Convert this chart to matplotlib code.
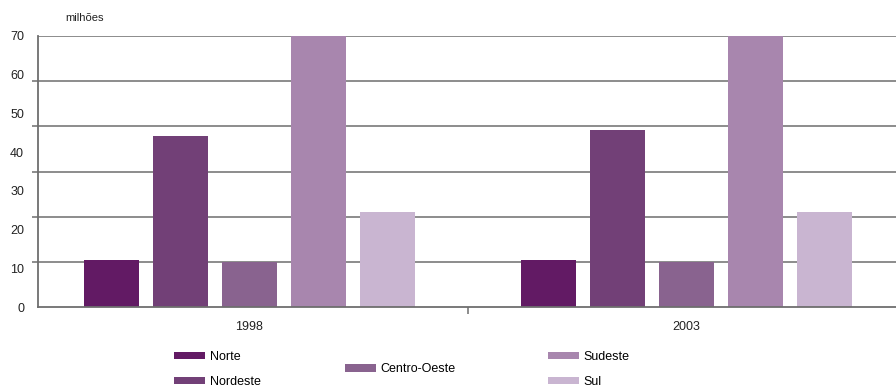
import numpy as np
import matplotlib
matplotlib.use("Agg")
import matplotlib.pyplot as plt

plt.rcParams['font.family'] = ['Liberation Sans', 'DejaVu Sans']

years = ['1998', '2003']
regions = ['Norte', 'Nordeste', 'Centro-Oeste', 'Sudeste', 'Sul']
# populacao em milhoes (Sudeste ultrapassa o limite do eixo)
norte = [12.1, 12.1]
nordeste = [44.2, 45.7]
centro_oeste = [11.6, 11.6]
sudeste = [72.0, 76.0]
sul = [24.5, 24.6]
y_labels = [0, 10, 20, 30, 40, 50, 60, 70]

colors = ['#621a64', '#724077', '#89638f', '#a886ae', '#c9b5d1']
series = [norte, nordeste, centro_oeste, sudeste, sul]

fig = plt.figure(figsize=(8.96, 3.90), dpi=100)
ax = fig.add_axes([38 / 896, 83 / 390, 1 - 38 / 896, 271 / 390])

x = np.arange(len(years))
step = 69 / 437
width = 55 / 437
bars = []
for i, (vals, c) in enumerate(zip(series, colors)):
    b = ax.bar(x + (i - 2) * step, vals, width=width, color=c, zorder=3)
    bars.append(b)

ax.set_xlim(-0.483, 1.48)
ax.set_ylim(0, 70)

# linhas de grade (6 intervalos)
for g in np.linspace(0, 70, 7)[1:]:
    ax.axhline(g, color='#6e6e6e', lw=1.1, zorder=1)

ax.set_yticks(y_labels)
ax.set_yticklabels([str(v) for v in y_labels], fontsize=9, color='#222222')
ax.tick_params(axis='y', length=0, pad=10)
ax.set_yticks(np.linspace(0, 70, 7), minor=True)
ax.tick_params(axis='y', which='minor', length=4, color='#6e6e6e', width=1.1)

ax.set_xticks(x)
ax.set_xticklabels(years, fontsize=9, color='#222222')
ax.tick_params(axis='x', length=0, pad=10)
ax.set_xticks([0.5], minor=True)
ax.tick_params(axis='x', which='minor', length=5, color='#6e6e6e', width=1.1)

for s in ['top', 'right']:
    ax.spines[s].set_visible(False)
for s in ['left', 'bottom']:
    ax.spines[s].set_color('#6e6e6e')
    ax.spines[s].set_linewidth(1.3)
    ax.spines[s].set_zorder(4)

fig.text(65 / 896, 1 - 18 / 390, 'milhões', fontsize=8, color='#222222', va='center')

leg_kw = dict(frameon=False, fontsize=9, handlelength=2.5, handleheight=0.55,
              handletextpad=0.35, borderpad=0, borderaxespad=0, labelspacing=1.05,
              loc='center left')
fig.legend([bars[0], bars[1]], regions[0:2],
           bbox_to_anchor=(174 / 896, 1 - 369.5 / 390), **leg_kw)
fig.legend([bars[2]], [regions[2]],
           bbox_to_anchor=(345 / 896, 1 - 369.5 / 390), **leg_kw)
fig.legend([bars[3], bars[4]], regions[3:5],
           bbox_to_anchor=(548 / 896, 1 - 369.5 / 390), **leg_kw)

fig.savefig('out.png', dpi=100)
